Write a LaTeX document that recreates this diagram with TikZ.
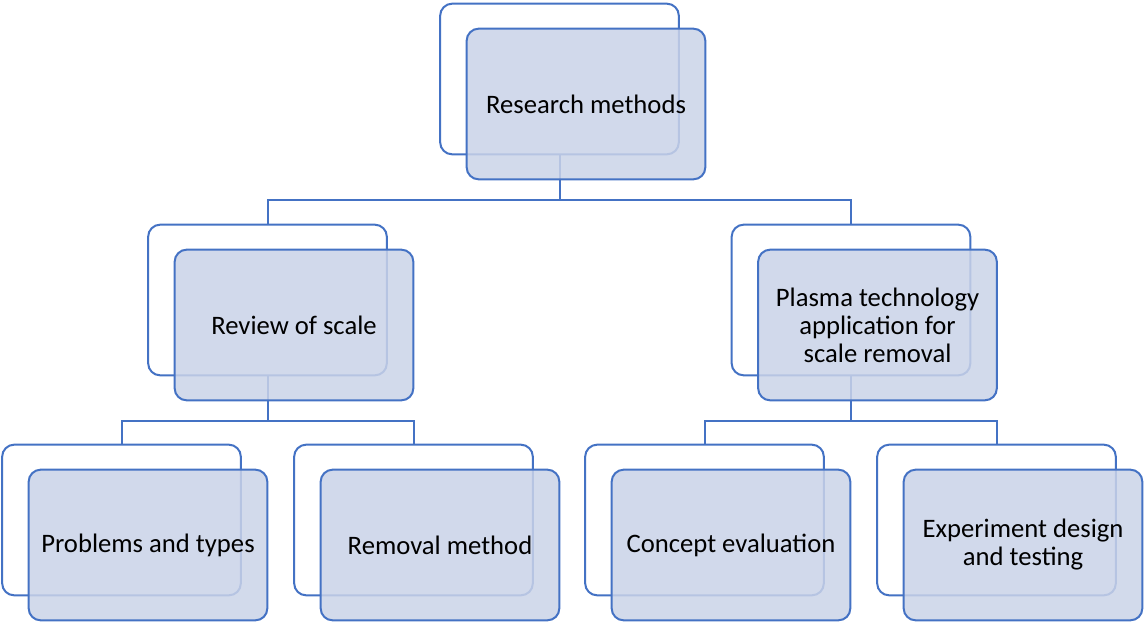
\documentclass[tikz,border=0pt]{standalone}
\usepackage{fontspec}
\setmainfont{Carlito}
\definecolor{boxline}{RGB}{68,114,196}
\definecolor{boxfill}{RGB}{202,211,232}
\tikzset{
  backbox/.style={draw=boxline, line width=1.5pt, fill=white, rounded corners=9pt,
    minimum width=179pt, minimum height=113pt},
  frontbox/.style={backbox, fill=boxfill, fill opacity=0.85, text opacity=1,
    align=center, font=\fontsize{20}{21}\selectfont},
  link/.style={draw=boxline, line width=1.5pt},
  elbow/.style={to path={-- ++(0,45) -| (\tikztotarget)}}
}
\begin{document}
\begin{tikzpicture}[x=0.75pt, y=-0.75pt]
  \useasboundingbox (0,0) rectangle (1144,622);
  % back boxes
  \node[backbox] (root) at (559.5,79) {};
  \node[backbox] (review) at (267.5,300) {};
  \node[backbox] (plasma) at (851,300) {};
  \node[backbox] (problems) at (121.5,520) {};
  \node[backbox] (removal) at (413.5,520) {};
  \node[backbox] (concept) at (704.5,520) {};
  \node[backbox] (experiment) at (996.5,520) {};

  \path[link]
    (root.south) edge[elbow] (review.north) edge[elbow] (plasma.north)
    (review.south) edge[elbow] (problems.north) edge[elbow] (removal.north)
    (plasma.south) edge[elbow] (concept.north) edge[elbow] (experiment.north);

  % front boxes
  \node[frontbox] (rootF) at (586,104) {Research methods};
  \node[frontbox] (reviewF) at (294,325) {Review of scale};
  \node[frontbox] (plasmaF) at (877.5,325) {Plasma technology\\application for\\scale removal};
  \node[frontbox] (problemsF) at (148,545) {Problems and types};
  \node[frontbox] (removalF) at (440,545) {Removal method};
  \node[frontbox] (conceptF) at (731,545) {Concept evaluation};
  \node[frontbox] (experimentF) at (1023,545) {Experiment design\\and testing};
\end{tikzpicture}
\end{document}
